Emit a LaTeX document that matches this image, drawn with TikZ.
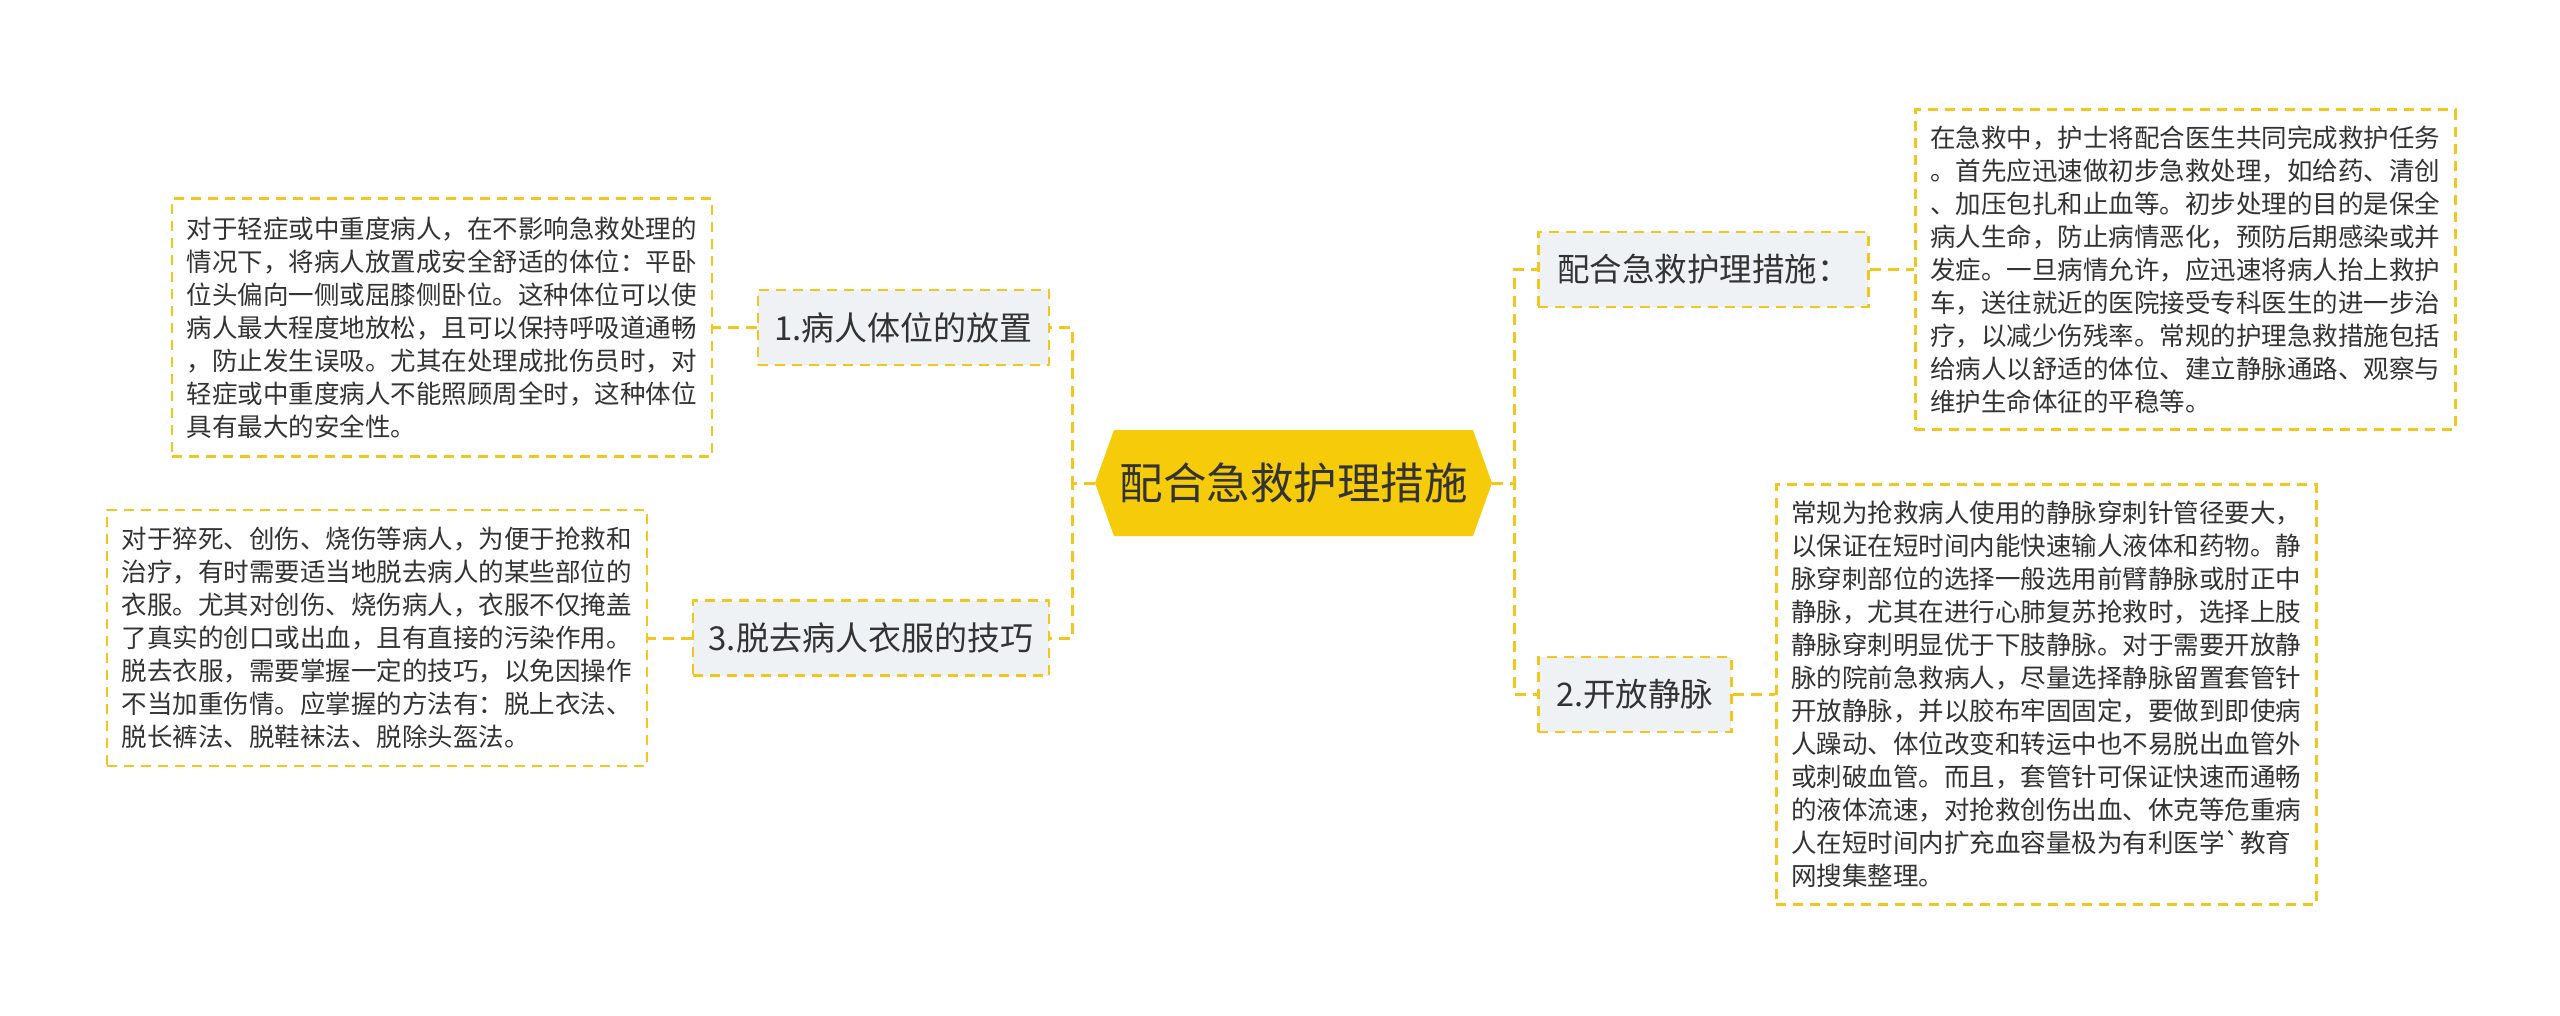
\documentclass[tikz,border=0pt]{standalone}
\usepackage{fontspec}
\newfontfamily\cjk{Noto Sans CJK SC}
\definecolor{gold}{RGB}{242,198,28}
\definecolor{hexfill}{RGB}{246,203,10}
\definecolor{headfill}{RGB}{239,242,245}
\definecolor{txt}{RGB}{51,51,51}
\begin{document}
\begin{tikzpicture}[x=1pt,y=-1pt,
  conn/.style={draw=gold, line width=3pt, dash pattern=on 11pt off 7pt},
  dashbox/.style={draw=gold, line width=2.5pt, dash pattern=on 10pt off 7pt},
  head/.style={dashbox, fill=headfill, minimum height=75pt, inner sep=0pt, text=txt},
  lhead/.style={head, font=\cjk\fontsize{33}{40}\selectfont},
  rhead/.style={head, font=\cjk\fontsize{32.5}{39}\selectfont},
  tbox/.style={dashbox, fill=white, inner xsep=15pt, inner ysep=0pt, text width=510pt, align=left, text=txt, font=\cjk\fontsize{25.5}{33}\selectfont},
  hexnode/.style={minimum width=397pt, minimum height=106pt, inner sep=0pt, text=txt,
    font=\cjk\fontsize{43.5}{52}\selectfont,
    path picture={\fill[hexfill] (path picture bounding box.west) -- ([xshift=19pt]path picture bounding box.north west) -- ([xshift=-19pt]path picture bounding box.north east) -- (path picture bounding box.east) -- ([xshift=-19pt]path picture bounding box.south east) -- ([xshift=19pt]path picture bounding box.south west) -- cycle;}}
]
\useasboundingbox[fill=white] (0,0) rectangle (2560,1015);

\node[hexnode] (c) at (1293.5,483) {配合急救护理措施};

\node[lhead, minimum width=291pt, anchor=east] (h1) at (1050,327.5) {1.病人体位的放置};
\node[lhead, minimum width=356pt, anchor=east] (h3) at (1050,638) {3.脱去病人衣服的技巧};
\node[rhead, minimum width=330pt, anchor=west] (hr1) at (1537,269.5) {配合急救护理措施：};
\node[rhead, minimum width=193pt, anchor=west] (h2) at (1537,694.5) {2.开放静脉};

\node[tbox, minimum height=258pt, anchor=east] (tb1) at (713,327.5) {对于轻症或中重度病人，在不影响急救处理的\\
情况下，将病人放置成安全舒适的体位：平卧\\
位头偏向一侧或屈膝侧卧位。这种体位可以使\\
病人最大程度地放松，且可以保持呼吸道通畅\\
，防止发生误吸。尤其在处理成批伤员时，对\\
轻症或中重度病人不能照顾周全时，这种体位\\
具有最大的安全性。};

\node[tbox, minimum height=256pt, anchor=east] (tb2) at (648,638) {对于猝死、创伤、烧伤等病人，为便于抢救和\\
治疗，有时需要适当地脱去病人的某些部位的\\
衣服。尤其对创伤、烧伤病人，衣服不仅掩盖\\
了真实的创口或出血，且有直接的污染作用。\\
脱去衣服，需要掌握一定的技巧，以免因操作\\
不当加重伤情。应掌握的方法有：脱上衣法、\\
脱长裤法、脱鞋袜法、脱除头盔法。};

\node[tbox, minimum height=320pt, anchor=west] (tb3) at (1914,269.5) {在急救中，护士将配合医生共同完成救护任务\\
。首先应迅速做初步急救处理，如给药、清创\\
、加压包扎和止血等。初步处理的目的是保全\\
病人生命，防止病情恶化，预防后期感染或并\\
发症。一旦病情允许，应迅速将病人抬上救护\\
车，送往就近的医院接受专科医生的进一步治\\
疗，以减少伤残率。常规的护理急救措施包括\\
给病人以舒适的体位、建立静脉通路、观察与\\
维护生命体征的平稳等。};

\node[tbox, minimum height=420pt, anchor=west] (tb4) at (1775,694.5) {常规为抢救病人使用的静脉穿刺针管径要大，\\
以保证在短时间内能快速输人液体和药物。静\\
脉穿刺部位的选择一般选用前臂静脉或肘正中\\
静脉，尤其在进行心肺复苏抢救时，选择上肢\\
静脉穿刺明显优于下肢静脉。对于需要开放静\\
脉的院前急救病人，尽量选择静脉留置套管针\\
开放静脉，并以胶布牢固固定，要做到即使病\\
人躁动、体位改变和转运中也不易脱出血管外\\
或刺破血管。而且，套管针可保证快速而通畅\\
的液体流速，对抢救创伤出血、休克等危重病\\
人在短时间内扩充血容量极为有利医学`教育\\
网搜集整理。};

\draw[conn] (c.west) -- ++(-22,0) |- (h1.east);
\draw[conn] (c.west) -- ++(-22,0) |- (h3.east);
\draw[conn] (c.east) -- ++(22,0) |- (hr1.west);
\draw[conn] (c.east) -- ++(22,0) |- (h2.west);
\draw[conn] (h1.west) -- (tb1.east);
\draw[conn] (h3.west) -- (tb2.east);
\draw[conn] (hr1.east) -- (tb3.west);
\draw[conn] (h2.east) -- (tb4.west);
\end{tikzpicture}
\end{document}
